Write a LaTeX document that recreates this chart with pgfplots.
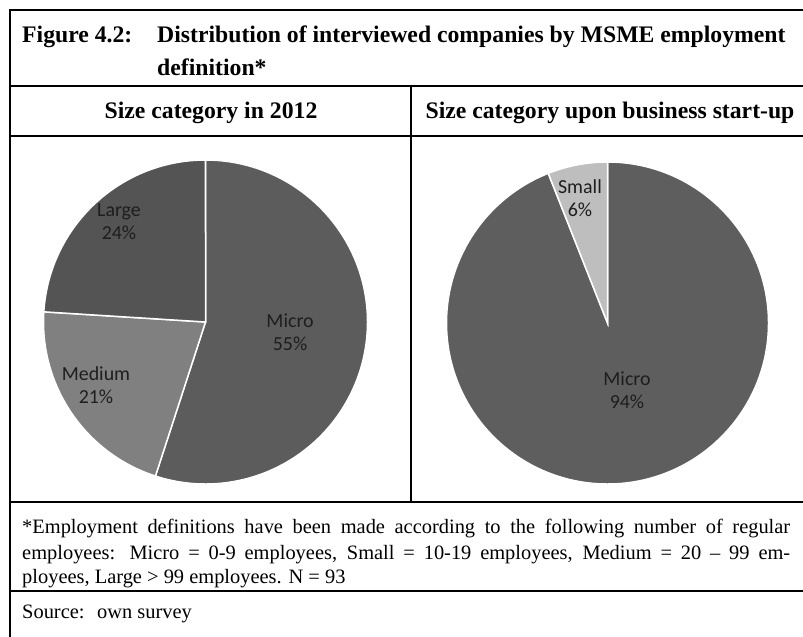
\documentclass[border=0pt]{standalone}
\usepackage{pgfplots}
\pgfplotsset{compat=1.18}
\usepackage{fontspec}
\setmainfont{Liberation Serif}
\newfontfamily\lblfont{Carlito}
\definecolor{microA}{RGB}{92,92,92}
\definecolor{mediumA}{RGB}{128,128,128}
\definecolor{largeA}{RGB}{84,84,84}
\definecolor{microB}{RGB}{94,94,94}
\definecolor{smallB}{RGB}{190,190,190}
\definecolor{lbl}{RGB}{30,30,30}
\begin{document}
\begin{tikzpicture}[x=1bp,y=-1bp]
\path[use as bounding box] (0,0) rectangle (803,637);
% frame
\draw[line width=2bp] (10,637) -- (10,10) -- (803,10);
\draw[line width=2bp] (10,86) -- (803,86);
\draw[line width=2bp] (10,136) -- (803,136);
\draw[line width=2bp] (10,502) -- (803,502);
\draw[line width=2bp] (10,591) -- (803,591);
\draw[line width=2bp] (411,86) -- (411,502);
% title
\node[anchor=base west, inner sep=0, font=\bfseries\fontsize{23.8}{28}\selectfont] at (22,43) {Figure 4.2:};
\node[anchor=base west, inner sep=0, font=\bfseries\fontsize{23.8}{28}\selectfont] at (157,43) {Distribution of interviewed companies by MSME employment};
\node[anchor=base west, inner sep=0, font=\bfseries\fontsize{23.8}{28}\selectfont] at (157,76) {definition*};
% headers
\node[anchor=base, inner sep=0, font=\bfseries\fontsize{23.8}{28}\selectfont] at (211,119) {Size category in 2012};
\node[anchor=base, inner sep=0, font=\bfseries\fontsize{23.8}{28}\selectfont] at (610,119) {Size category upon business start-up};
% footnote
\node[anchor=base west, inner sep=0, font=\fontsize{20.5}{25}\selectfont] at (22,533) {\makebox[768bp][s]{*Employment definitions have been made according to the following number of regular}};
\node[anchor=base west, inner sep=0, font=\fontsize{20.5}{25}\selectfont] at (22,559) {\makebox[768bp][s]{employees: Micro = 0-9 employees, Small = 10-19 employees, Medium = 20 -- 99 em-}};
\node[anchor=base west, inner sep=0, font=\fontsize{20.5}{25}\selectfont] at (22,583) {ployees, Large > 99 employees. N = 93};
\node[anchor=base west, inner sep=0, font=\fontsize{20.5}{25}\selectfont] at (22,618) {Source:};
\node[anchor=base west, inner sep=0, font=\fontsize{20.5}{25}\selectfont] at (97,618) {own survey};
% left pie: Micro 55, Medium 21, Large 24 (clockwise from 90 deg)
\begin{axis}[at={(205.5bp,-322bp)}, anchor=center, hide axis, x=162bp, y=162bp,
  xmin=-1, xmax=1, ymin=-1, ymax=1, clip=false]
\addplot[fill=microA, draw=white, line width=1.5bp] coordinates {(0,0) (0,1)} arc[start angle=90, end angle=-108, radius=162bp] -- cycle;
\addplot[fill=mediumA, draw=white, line width=1.5bp] coordinates {(0,0) (-0.30902,-0.95106)} arc[start angle=-108, end angle=-183.6, radius=162bp] -- cycle;
\addplot[fill=largeA, draw=white, line width=1.5bp] coordinates {(0,0) (-0.99803,0.06279)} arc[start angle=-183.6, end angle=-270, radius=162bp] -- cycle;
\node[align=center, text=lbl, font=\lblfont\fontsize{20}{23}\selectfont] at (axis cs:-0.534,0.617) {Large\\24\%};
\node[align=center, text=lbl, font=\lblfont\fontsize{20}{23}\selectfont] at (axis cs:0.522,-0.062) {Micro\\55\%};
\node[align=center, text=lbl, font=\lblfont\fontsize{20}{23}\selectfont] at (axis cs:-0.676,-0.389) {Medium\\21\%};
\end{axis}
% right pie: Micro 94, Small 6
\begin{axis}[at={(607.5bp,-323bp)}, anchor=center, hide axis, x=161bp, y=161bp,
  xmin=-1, xmax=1, ymin=-1, ymax=1, clip=false]
\addplot[fill=microB, draw=white, line width=1.5bp] coordinates {(0,0) (0,1)} arc[start angle=90, end angle=-248.4, radius=161bp] -- cycle;
\addplot[fill=smallB, draw=white, line width=1.5bp] coordinates {(0,0) (-0.36812,0.92978)} arc[start angle=-248.4, end angle=-270, radius=161bp] -- cycle;
\node[align=center, text=lbl, font=\lblfont\fontsize{20}{23}\selectfont] at (axis cs:-0.171,0.776) {Small\\6\%};
\node[align=center, text=lbl, font=\lblfont\fontsize{20}{23}\selectfont] at (axis cs:0.121,-0.416) {Micro\\94\%};
\end{axis}
\end{tikzpicture}
\end{document}
